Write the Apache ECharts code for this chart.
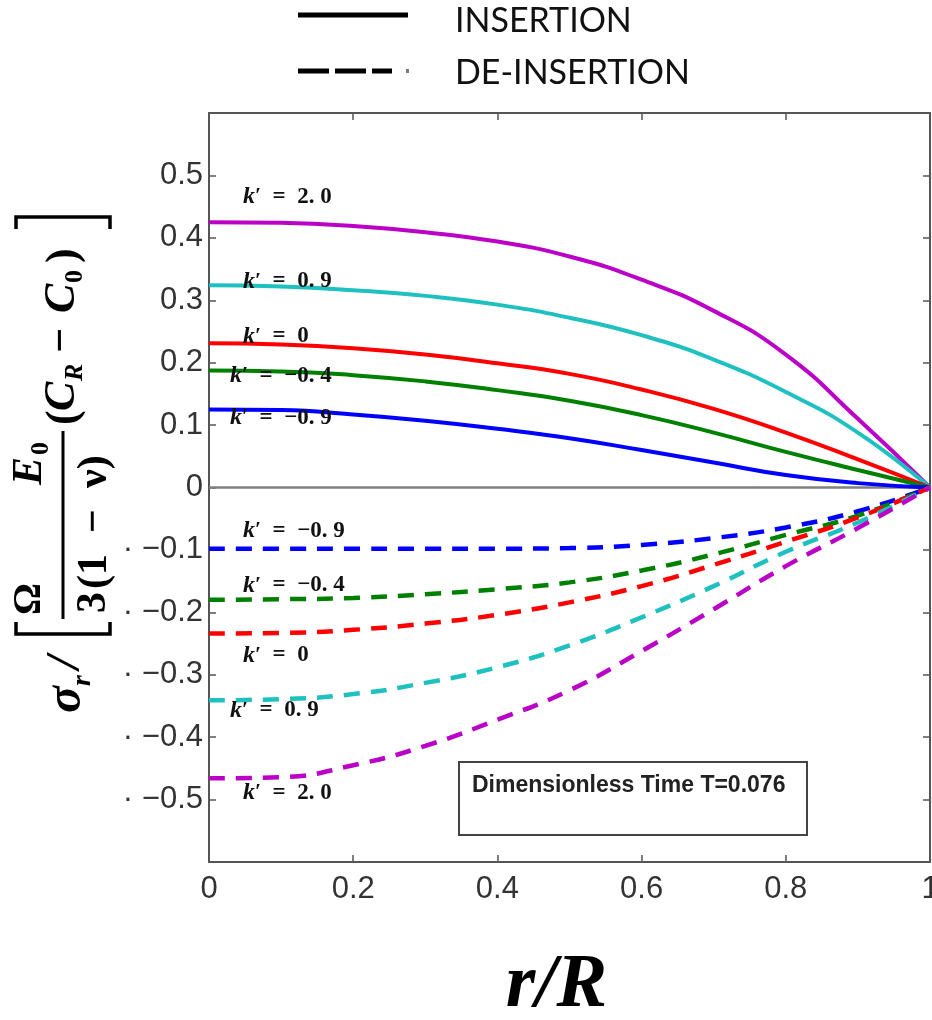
<!DOCTYPE html>
<html><head><meta charset="utf-8">
<script src="https://cdn.jsdelivr.net/npm/echarts@6/dist/echarts.min.js"></script>
<style>html,body{margin:0;padding:0;background:#fff}#c{width:932px;height:1020px}</style>
</head><body><div id="c"></div>
<script>
// r/R sample positions
const rValues = [0, 0.1, 0.2, 0.3, 0.4, 0.5, 0.6, 0.7, 0.8, 0.9, 1];
// INSERTION (solid)
const insK20  = [0.425, 0.424, 0.419, 0.409, 0.394, 0.370, 0.333, 0.283, 0.213, 0.110, 0];
const insK09  = [0.324, 0.322, 0.316, 0.307, 0.293, 0.272, 0.244, 0.205, 0.153, 0.088, 0];
const insK0   = [0.231, 0.229, 0.223, 0.213, 0.199, 0.182, 0.157, 0.126, 0.088, 0.045, 0];
const insKm04 = [0.1875, 0.186, 0.180, 0.170, 0.156, 0.139, 0.116, 0.088, 0.057, 0.028, 0];
const insKm09 = [0.125, 0.124, 0.117, 0.107, 0.094, 0.079, 0.060, 0.040, 0.020, 0.007, 0];
// DE-INSERTION (dashed)
const deKm09 = [-0.098, -0.098, -0.098, -0.098, -0.098, -0.097, -0.092, -0.081, -0.064, -0.038, 0];
const deKm04 = [-0.180, -0.179, -0.177, -0.171, -0.163, -0.152, -0.133, -0.107, -0.076, -0.045, 0];
const deK0   = [-0.234, -0.233, -0.228, -0.218, -0.204, -0.184, -0.158, -0.124, -0.087, -0.048, 0];
const deK09  = [-0.341, -0.339, -0.331, -0.313, -0.288, -0.253, -0.208, -0.158, -0.103, -0.056, 0];
const deK20  = [-0.466, -0.464, -0.445, -0.414, -0.372, -0.325, -0.262, -0.195, -0.126, -0.065, 0];

const yTickLabels = ['0.5','0.4','0.3','0.2','0.1','0','· −0.1','· −0.2','· −0.3','· −0.4','· −0.5'];

// curve annotations (text, anchor x, anchor y in data units)
const labelTexts = ['2. 0','0. 9','0','−0. 4','−0. 9','−0. 9','−0. 4','0','0. 9','2. 0'];
const labelXs = [0.047, 0.047, 0.047, 0.029, 0.029, 0.047, 0.047, 0.047, 0.029, 0.047];
const labelYs = [0.466, 0.330, 0.242, 0.179, 0.112, -0.069, -0.157, -0.269, -0.357, -0.489];

const C = {mag:'#bb00c8', cyan:'#1fc0c0', red:'#ff0000', green:'#008000', blue:'#0000ff'};

function pts(arr){ return rValues.map((r,i)=>[r, arr[i]]); }
function solid(name, arr, color){
  return {name, type:'line', data:pts(arr), showSymbol:false, smooth:0.5,
    lineStyle:{color, width:4}, itemStyle:{color}, z:3};
}
function dashed(name, arr, color){
  return {name, type:'line', data:pts(arr), showSymbol:false, smooth:0.5,
    lineStyle:{color, width:4.5, type:[16,11]}, itemStyle:{color}, z:3};
}

const chart = echarts.init(document.getElementById('c'), null, {renderer:'canvas'});
const axisColor = '#555';
const series = [
  solid('k′=2.0 ins', insK20, C.mag),
  solid('k′=0.9 ins', insK09, C.cyan),
  solid('k′=0 ins', insK0, C.red),
  solid('k′=-0.4 ins', insKm04, C.green),
  solid('k′=-0.9 ins', insKm09, C.blue),
  dashed('k′=-0.9 de', deKm09, C.blue),
  dashed('k′=-0.4 de', deKm04, C.green),
  dashed('k′=0 de', deK0, C.red),
  dashed('k′=0.9 de', deK09, C.cyan),
  dashed('k′=2.0 de', deK20, C.mag)
];
series[0].markLine = {silent:true, symbol:'none', label:{show:false},
  lineStyle:{color:'#808080', width:2.5, type:'solid'}, data:[{yAxis:0}], z:2};

function yLabel(v){
  const k = Math.round(v*10);
  if (Math.abs(k) >= 6) return '';
  return yTickLabels[5 - k];
}

chart.setOption({
  animation:false,
  backgroundColor:'#fff',
  grid:{left:209, right:2, top:113, bottom:158, show:false, containLabel:false, outerBoundsMode:'none'},
  xAxis:[{
    type:'value', min:0, max:1, interval:0.2, position:'bottom',
    name:'r/R', nameLocation:'middle', nameGap:86,
    nameTextStyle:{fontFamily:'Liberation Serif', fontStyle:'italic', fontWeight:'bold', fontSize:76, color:'#000', padding:[0,26,0,0]},
    axisLine:{show:true, onZero:false, lineStyle:{color:axisColor, width:2}},
    axisTick:{show:true, inside:true, length:7, lineStyle:{color:axisColor, width:1.5}},
    axisLabel:{fontFamily:'Liberation Sans', fontSize:31, color:'#333', margin:12,
      formatter:v=>{const k=Math.round(v*10); return k===0?'0':k===10?'1':(k/10).toFixed(1);}},
    splitLine:{show:false}
  },{
    type:'value', min:0, max:1, interval:0.2, position:'top',
    axisLine:{show:true, onZero:false, lineStyle:{color:axisColor, width:2}},
    axisTick:{show:true, inside:true, length:7, lineStyle:{color:axisColor, width:1.5}},
    axisLabel:{show:false}, splitLine:{show:false}
  }],
  yAxis:[{
    type:'value', min:-0.6, max:0.6, interval:0.1, position:'left',
    axisLine:{show:true, onZero:false, lineStyle:{color:axisColor, width:2}},
    axisTick:{show:true, inside:true, length:7, lineStyle:{color:axisColor, width:1.5}},
    axisLabel:{fontFamily:'Liberation Sans', fontSize:31, color:'#333', margin:6, formatter:yLabel},
    splitLine:{show:false}
  },{
    type:'value', min:-0.6, max:0.6, interval:0.1, position:'right',
    axisLine:{show:true, onZero:false, lineStyle:{color:axisColor, width:2}},
    axisTick:{show:true, inside:true, length:7, lineStyle:{color:axisColor, width:1.5}},
    axisLabel:{show:false}, splitLine:{show:false}
  }],
  series
});

// ---- graphics: legend, annotation box, curve labels, y-axis title ----
const serif = 'Liberation Serif';
function T(text, x, y, size, opts){
  opts = opts || {};
  return {type:'text', x, y, silent:true, style:{text, fontSize:size, fontFamily:opts.family||serif,
    fontWeight:opts.weight||'bold', fontStyle:opts.italic?'italic':'normal', fill:opts.fill||'#000',
    align:opts.align||'left', verticalAlign:'middle'}};
}

const g = [];
// legend
g.push({type:'line', shape:{x1:298, y1:15, x2:408, y2:15}, style:{stroke:'#000', lineWidth:5}});
g.push(T('INSERTION', 455, 21, 34, {family:'Lato', weight:'normal', fill:'#111'}));
g.push({type:'line', shape:{x1:298, y1:71, x2:392, y2:71}, style:{stroke:'#000', lineWidth:5, lineDash:[31,6]}});
g.push({type:'rect', shape:{x:406, y:69, width:3, height:4}, style:{fill:'#777'}});
g.push(T('DE-INSERTION', 455, 73, 34, {family:'Lato', weight:'normal', fill:'#111'}));

// annotation box
g.push({type:'rect', shape:{x:459, y:762, width:348, height:73}, style:{fill:'#fff', stroke:'#444', lineWidth:2}, z:5});
g.push(Object.assign(T('Dimensionless Time T=0.076', 472, 786, 23, {family:'Liberation Sans', fill:'#222'}), {z:6}));

// curve labels
labelTexts.forEach((txt, i)=>{
  const p = chart.convertToPixel({xAxisIndex:0, yAxisIndex:0}, [labelXs[i], labelYs[i]]);
  g.push({type:'text', x:p[0], y:p[1], silent:true, z:10, style:{
    text:'{k|k}{p|′}{n|  =  ' + txt + '}', fontFamily:serif, fontWeight:'bold', fontSize:23, fill:'#111',
    align:'left', verticalAlign:'middle',
    rich:{k:{fontStyle:'italic', fontWeight:'bold', fontFamily:serif, fontSize:24},
          p:{fontWeight:'bold', fontFamily:serif, fontSize:22},
          n:{fontWeight:'bold', fontFamily:serif, fontSize:23}}
  }});
});

// y-axis title: σr / [ Ω E0 / 3(1 − ν) · (C_R − C_0) ], drawn rotated
const yt = [
  T('σ', 0, 4, 50, {italic:true}),
  T('r', 27, 20, 28, {italic:true}),
  T('/', 44, 4, 48, {italic:true}),
  {type:'polyline', shape:{points:[[91,-47],[79,-47],[79,47],[91,47]]}, style:{stroke:'#000', lineWidth:3.5, fill:null}},
  T('Ω', 98, -33, 40),
  T('3', 100, 31, 42),
  {type:'line', shape:{x1:94, y1:0, x2:282, y2:0}, style:{stroke:'#000', lineWidth:3}},
  T('E', 228, -33, 42, {italic:true}),
  T('0', 258, -22, 26),
  T('(1\u2002−\u2002ν)', 124, 32, 42),
  T('(', 288, 2, 44),
  T('C', 302, 0, 44, {italic:true}),
  T('R', 332, 12, 26, {italic:true}),
  T('−', 360, 0, 44),
  T('C', 400, 0, 44, {italic:true}),
  T('0', 430, 12, 26),
  T(')', 450, 2, 44),
  {type:'polyline', shape:{points:[[484,-47],[496,-47],[496,47],[484,47]]}, style:{stroke:'#000', lineWidth:3.5, fill:null}}
];
g.push({type:'group', x:63, y:713, rotation:Math.PI/2, children:yt});

chart.setOption({graphic:g});
</script></body></html>
